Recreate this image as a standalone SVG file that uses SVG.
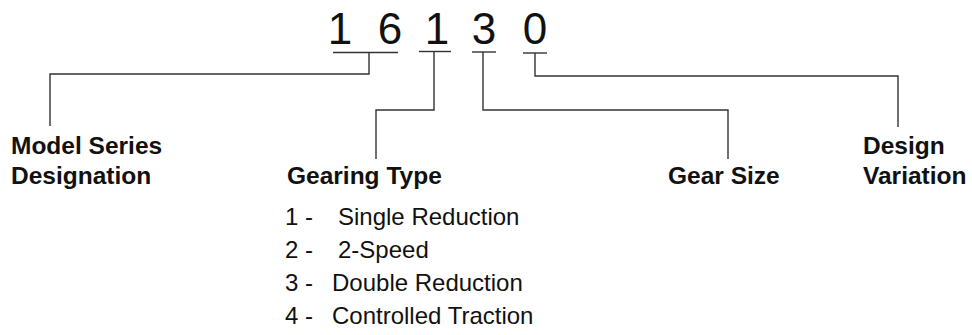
<svg xmlns="http://www.w3.org/2000/svg" width="972" height="335" viewBox="0 0 972 335">
<style>
.dig{font-family:"Liberation Sans",Arial,sans-serif;font-size:44px;fill:#111;text-anchor:middle}
.lbl{font-family:"Liberation Sans",Arial,sans-serif;font-size:24.5px;font-weight:bold;fill:#111}
.item{font-family:"Liberation Sans",Arial,sans-serif;font-size:24px;fill:#111}
.ln{fill:none;stroke:#333;stroke-width:1.4}
</style>
<rect width="972" height="335" fill="#fff"/>
<g id="code">
<text class="dig" x="340" y="44">1</text>
<text class="dig" x="390" y="44">6</text>
<text class="dig" x="437" y="44">1</text>
<text class="dig" x="484" y="44">3</text>
<text class="dig" x="535" y="44">0</text>
<line class="ln" x1="333" y1="52.5" x2="398" y2="52.5"/>
<line class="ln" x1="419" y1="51.5" x2="451" y2="51.5"/>
<line class="ln" x1="472" y1="52" x2="496" y2="52" stroke="#555"/>
<line class="ln" x1="523" y1="53" x2="547" y2="53"/>
</g>
<g id="connectors">
<path class="ln" d="M369,52.5 V74 H50 V126"/>
<path class="ln" d="M434,51.5 V110 H376 V159"/>
<path class="ln" d="M483,52 V110 H728 V159"/>
<path class="ln" d="M535,53 V76 H898 V127"/>
</g>
<g id="model-series">
<text class="lbl" x="11" y="154">Model Series</text>
<text class="lbl" x="11" y="184">Designation</text>
</g>
<g id="gearing-type">
<text class="lbl" x="287" y="184">Gearing Type</text>
<text class="item" y="225"><tspan x="285">1 -</tspan><tspan x="338">Single Reduction</tspan></text>
<text class="item" y="258"><tspan x="285">2 -</tspan><tspan x="338">2-Speed</tspan></text>
<text class="item" y="291"><tspan x="285">3 -</tspan><tspan x="332">Double Reduction</tspan></text>
<text class="item" y="324"><tspan x="285">4 -</tspan><tspan x="332">Controlled Traction</tspan></text>
</g>
<g id="gear-size">
<text class="lbl" x="668" y="184">Gear Size</text>
</g>
<g id="design-variation">
<text class="lbl" x="863" y="154">Design</text>
<text class="lbl" x="863" y="184">Variation</text>
</g>
</svg>
